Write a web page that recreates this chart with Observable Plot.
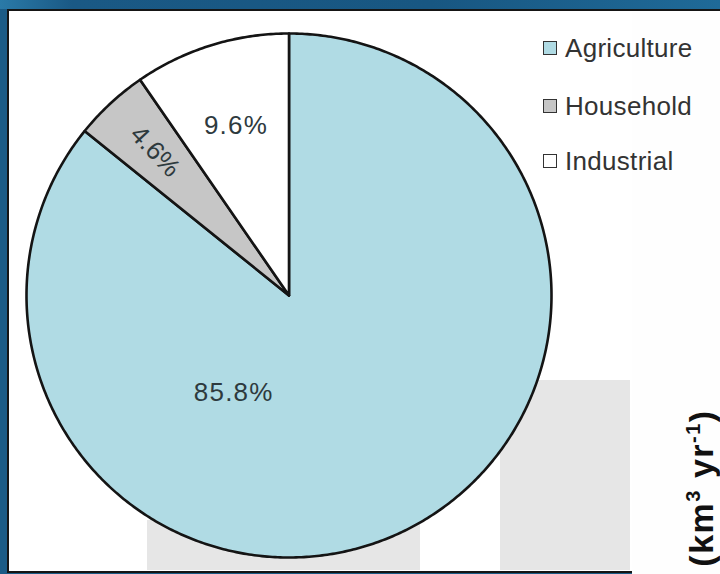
<!DOCTYPE html>
<html>
<head>
<meta charset="utf-8">
<script src="https://cdn.jsdelivr.net/npm/d3@7"></script>
<script src="https://cdn.jsdelivr.net/npm/@observablehq/plot@0.6"></script>
<style>
  html, body { margin: 0; padding: 0; }
  body { width: 720px; height: 574px; position: relative; overflow: hidden;
         background: #1b5b86; font-family: "Liberation Sans", Arial, Helvetica, sans-serif; }
  #topband { position: absolute; left: 0; top: 0; width: 720px; height: 9px;
             background: linear-gradient(90deg, #2a7aa8 0%, #1a5985 10%, #185782 60%, #1f6a98 100%); }
  #panel { position: absolute; left: 7px; top: 9px; width: 760px; height: 560px;
           background: #ffffff; border: 2.5px solid #151515; }
  #rightwhite { position: absolute; left: 632px; top: 12px; width: 88px; height: 562px; background: #fefefe; }
  .gray { position: absolute; background: #e6e6e6; }
  #chart { position: absolute; left: 0; top: 0; }
  #legend { position: absolute; left: 543px; top: 33px; }
  .item { position: absolute; left: 0; white-space: nowrap; font-size: 26px; color: #333; letter-spacing: 0.3px; }
  .sw { display: inline-block; width: 12px; height: 12px; border: 1.5px solid #333; margin-right: 8px; vertical-align: 2px; }
  #unit { position: absolute; left: 701px; top: 488px; transform: translate(-50%, -50%) rotate(-90deg);
          font-weight: bold; font-size: 34px; letter-spacing: 1.5px; color: #111; white-space: nowrap; }
  #unit sup { font-size: 20px; }
</style>
</head>
<body>
<div id="topband"></div>
<div id="panel"></div>
<div id="rightwhite"></div>
<div class="gray" style="left:147px; top:520px; width:273px; height:50px;"></div>
<div class="gray" style="left:500px; top:380px; width:130px; height:190px;"></div>
<div id="chart"></div>
<div id="legend"></div>
<div id="unit">(km<sup>3</sup> yr<sup>-1</sup>)</div>
<script>
// ---- data ----
const categories = ["Agriculture", "Household", "Industrial"];
const shares = [85.8, 4.6, 9.6];
const labels = ["85.8%", "4.6%", "9.6%"];
const colors = ["#b0dbe4", "#c6c6c6", "#ffffff"];

// ---- pie geometry from the values ----
const arcs = d3.pie().sort(null).value(d => d)(shares);
const pts = [];
arcs.forEach((a, i) => {
  const cat = categories[i];
  pts.push({cat, x: 0, y: 0});
  const n = Math.max(8, Math.ceil((a.endAngle - a.startAngle) / 0.01));
  for (let k = 0; k <= n; k++) {
    const t = a.startAngle + (a.endAngle - a.startAngle) * k / n;
    pts.push({cat, x: Math.sin(t), y: Math.cos(t)});
  }
});

// label placement (fraction along slice, radius fraction, rotation)
const labelPlace = {
  "Agriculture": {t: 0.679, r: 0.425, rot: 0},
  "Household":   {t: 0.5,  r: 0.75, rot: 47},
  "Industrial":  {t: 0.5,  r: 0.68, rot: 0}
};
const labelData = arcs.map((a, i) => {
  const p = labelPlace[categories[i]];
  const t = a.startAngle + (a.endAngle - a.startAngle) * p.t;
  return {cat: categories[i], label: labels[i], x: p.r * Math.sin(t), y: p.r * Math.cos(t), rot: p.rot};
});

const plot = Plot.plot({
  width: 720, height: 574,
  marginLeft: 26, marginRight: 169, marginTop: 33, marginBottom: 17,
  x: {domain: [-1, 1], axis: null},
  y: {domain: [-1, 1], axis: null},
  color: {domain: categories, range: colors},
  style: {background: "transparent", overflow: "visible"},
  marks: [
    Plot.line(pts, {x: "x", y: "y", z: "cat", fill: "cat", stroke: "#141414",
                    strokeWidth: 2.6, curve: "linear-closed", strokeLinejoin: "round"}),
    Plot.text(labelData, {x: "x", y: "y", text: "label", rotate: "rot",
                          fontSize: 26, fill: "#2e3a3e", fontFamily: "Liberation Sans, Arial, sans-serif"})
  ]
});
plot.querySelectorAll("text").forEach(t => {
  if (!/4\.6/.test(t.textContent)) t.style.letterSpacing = "1.2px";
});
document.getElementById("chart").appendChild(plot);

// legend
const lg = document.getElementById("legend");
const rowY = [0, 58, 113];
categories.forEach((c, i) => {
  const d = document.createElement("div");
  d.className = "item";
  d.style.top = rowY[i] + "px";
  d.innerHTML = `<span class="sw" style="background:${colors[i]}"></span>${c}`;
  lg.appendChild(d);
});
</script>
</body>
</html>
